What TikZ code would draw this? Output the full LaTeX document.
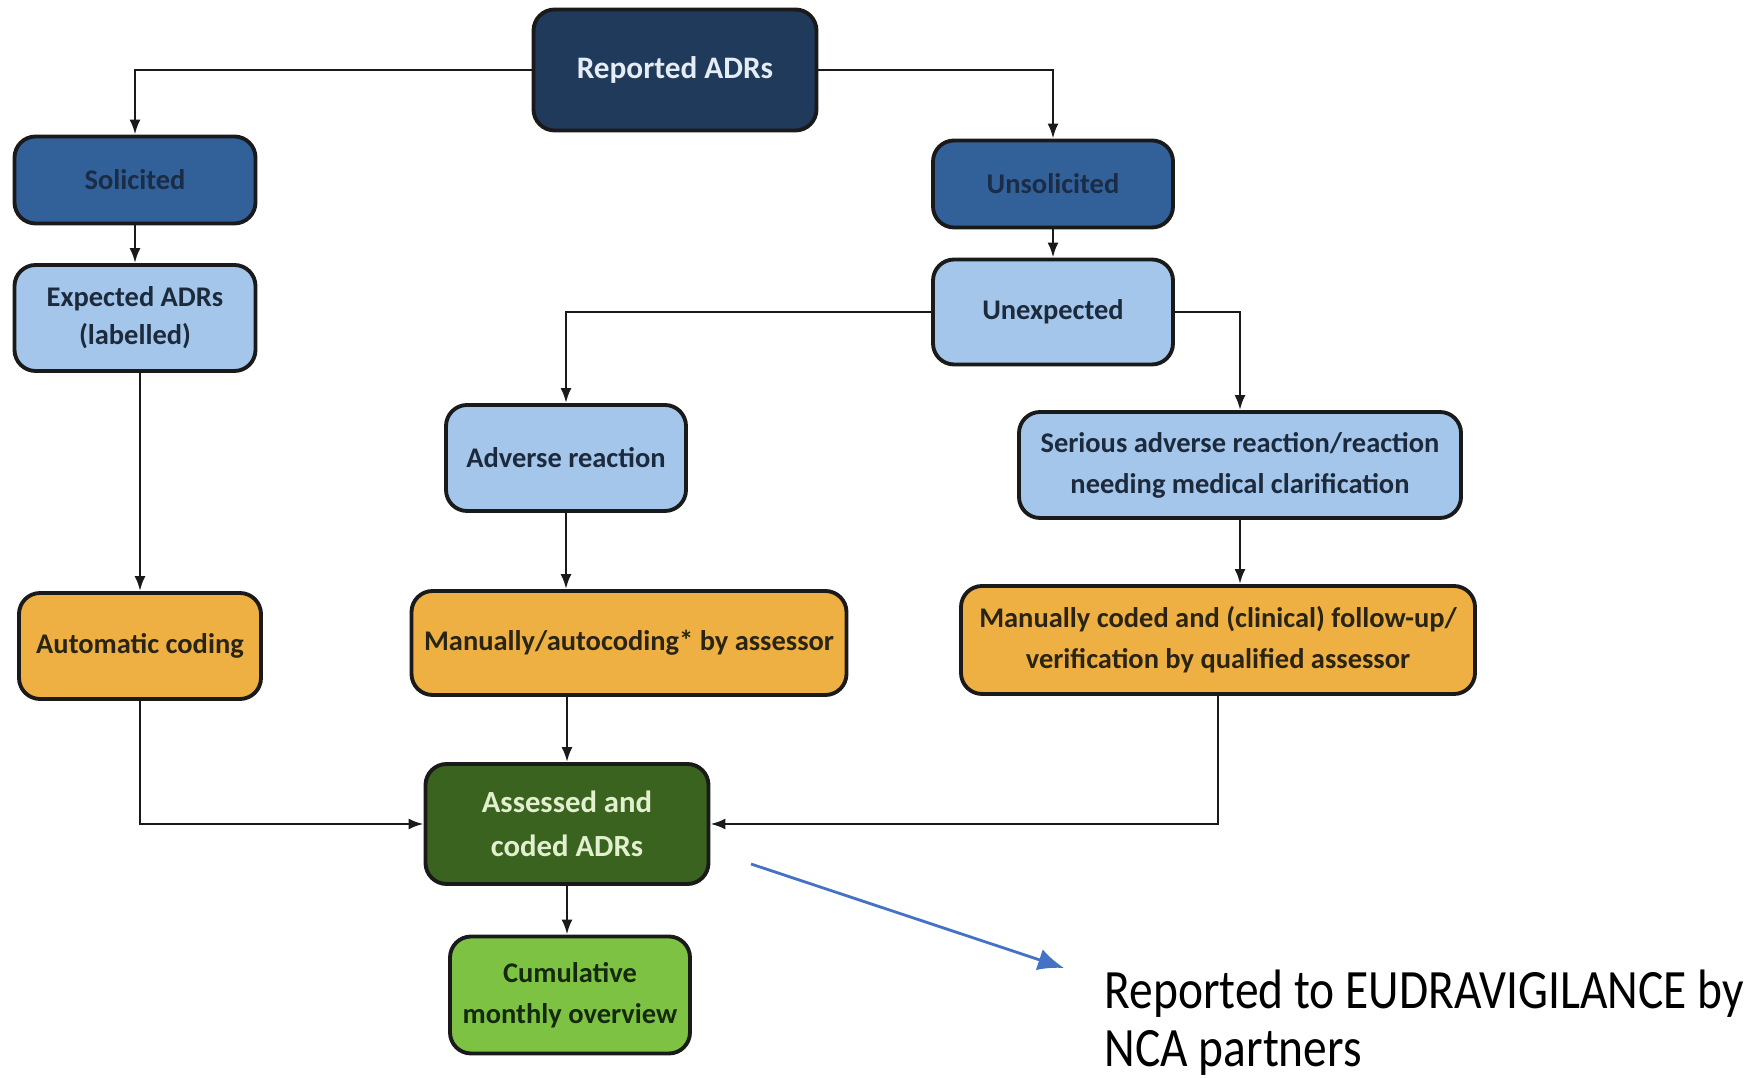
\documentclass[tikz,border=0pt]{standalone}
\usepackage{fontspec}
\setmainfont{Carlito}
\usepackage{xcolor}
\usetikzlibrary{arrows.meta,positioning}
\definecolor{ink}{HTML}{1A1A1A}
\definecolor{navy}{HTML}{203A5B}
\definecolor{navytext}{HTML}{E4ECF4}
\definecolor{mid}{HTML}{32619A}
\definecolor{midtext}{HTML}{1A2C46}
\definecolor{sky}{HTML}{A3C6EA}
\definecolor{skytext}{HTML}{1C2A3C}
\definecolor{amber}{HTML}{EFB043}
\definecolor{ambertext}{HTML}{2A2414}
\definecolor{forest}{HTML}{3A631F}
\definecolor{foresttext}{HTML}{E2F0CF}
\definecolor{lime}{HTML}{7DC243}
\definecolor{limetext}{HTML}{15290C}
\definecolor{pointer}{HTML}{4472C4}
\tikzset{
  box/.style={draw=ink, rounded corners=6pt, line width=1.1pt, align=center, inner sep=3pt, font=\bfseries\fontsize{8.1}{11.7}\selectfont},
  navybox/.style={box, fill=navy, text=navytext, font=\bfseries\fontsize{8.9}{12}\selectfont},
  midbox/.style={box, fill=mid, text=midtext},
  skybox/.style={box, fill=sky, text=skytext},
  amberbox/.style={box, fill=amber, text=ambertext},
  forestbox/.style={box, fill=forest, text=foresttext, font=\bfseries\fontsize{8.75}{12.4}\selectfont},
  limebox/.style={box, fill=lime, text=limetext},
  arrow/.style={-{Latex[length=1.5mm,width=1.1mm]}, line width=0.7pt, draw=ink},
  bluearrow/.style={-{Latex[length=2.6mm,width=2.2mm]}, line width=0.8pt, draw=pointer}
}
\begin{document}
\begin{tikzpicture}
\useasboundingbox (0,0) rectangle (17.64,-10.78);
\node[navybox, minimum width=28.3mm, minimum height=12.1mm] (rep) at (6.75,-0.70) {Reported ADRs};
\node[midbox, minimum width=24.1mm, minimum height=8.7mm] (sol) at (1.35,-1.80) {Solicited};
\node[midbox, minimum width=24.0mm, minimum height=8.7mm] (unsol) at (10.53,-1.84) {Unsolicited};
\node[skybox, minimum width=24.1mm, minimum height=10.6mm, font=\bfseries\fontsize{8.1}{10.8}\selectfont] (expd) at (1.35,-3.18) {Expected ADRs\\(labelled)};
\node[skybox, minimum width=24.0mm, minimum height=10.5mm] (unexp) at (10.53,-3.12) {Unexpected};
\node[skybox, minimum width=24.0mm, minimum height=10.6mm] (adv) at (5.66,-4.58) {Adverse reaction};
\node[skybox, minimum width=44.2mm, minimum height=10.6mm] (ser) at (12.40,-4.65) {Serious adverse reaction/reaction\\needing medical clarification};
\node[amberbox, minimum width=24.2mm, minimum height=10.6mm] (auto) at (1.40,-6.46) {Automatic coding};
\node[amberbox, minimum width=43.5mm, minimum height=10.4mm] (man) at (6.29,-6.43) {Manually/autocoding* by assessor};
\node[amberbox, minimum width=51.4mm, minimum height=10.8mm] (manc) at (12.18,-6.40) {Manually coded and (clinical) follow-up/\\verification by qualified assessor};
\node[forestbox, minimum width=28.3mm, minimum height=12.0mm] (ass) at (5.67,-8.24) {Assessed and\\coded ADRs};
\node[limebox, minimum width=24.0mm, minimum height=11.7mm] (cum) at (5.70,-9.95) {Cumulative\\monthly overview};
\draw[arrow] (rep.west) -| (sol.north);
\draw[arrow] (rep.east) -| (unsol.north);
\draw[arrow] (sol.south) -- (expd.north);
\draw[arrow] (unsol.south) -- (unexp.north);
\draw[arrow] (unexp.west) -| (adv.north);
\draw[arrow] (unexp.east) -| (ser.north);
\draw[arrow] (auto.north |- expd.south) -- (auto.north);
\draw[arrow] (adv.south) -- (adv.south |- man.north);
\draw[arrow] (ser.south) -- (ser.south |- manc.north);
\draw[arrow] (auto.south) |- (ass.west);
\draw[arrow] (manc.south) |- (ass.east);
\draw[arrow] (ass.north |- man.south) -- (ass.north);
\draw[arrow] (ass.south) -- (ass.south |- cum.north);
\coordinate (tail) at (7.51,-8.64);
\coordinate (tip) at (10.64,-9.68);
\draw[bluearrow] (tail) -- (tip);
\node[anchor=base west, align=left, inner sep=0pt, text=black, yscale=1.17, transform shape, font=\fontsize{13.5}{14.2}\selectfont] (nca) at (11.04,-10.67) {Reported to EUDRAVIGILANCE by\\NCA partners};
\end{tikzpicture}
\end{document}
